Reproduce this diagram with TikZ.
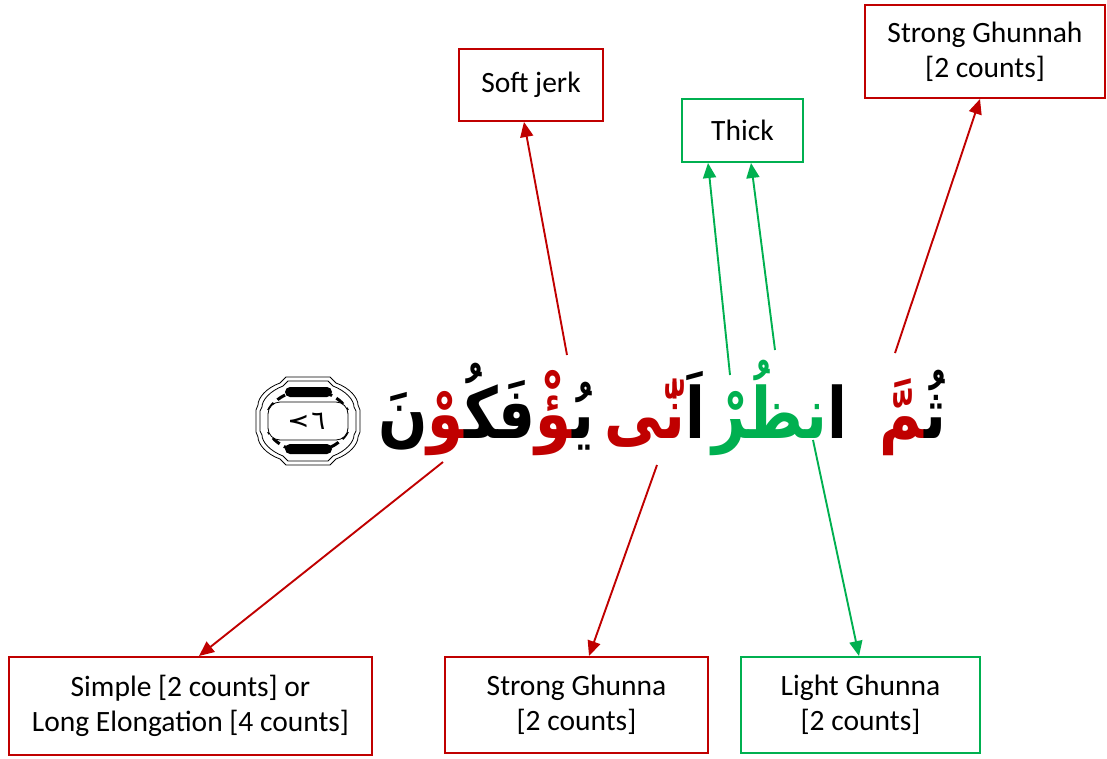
\documentclass[tikz,border=0pt]{standalone}
\usepackage{fontspec}
\setmainfont{Carlito}
\newfontfamily\arabicfont[Script=Arabic]{DejaVu Sans}
\TeXXeTstate=1
\usetikzlibrary{arrows.meta}
\definecolor{myred}{HTML}{C00000}
\definecolor{mygreen}{HTML}{00B050}
\newcommand\zj{^^^^200d}
\newcommand\tallar[1]{\scalebox{1}[1.22]{#1}}
\begin{document}
\begin{tikzpicture}[x=1pt,y=-1pt,
  box/.style={draw, line width=2pt, fill=white, inner sep=0pt, align=center,
    font=\fontsize{29.5}{35}\selectfont},
  redbox/.style={box, draw=myred},
  greenbox/.style={box, draw=mygreen},
  arr/.style={line width=1.9pt, -{Triangle[length=15pt,width=13pt]}},
  ar/.style={font=\arabicfont\bfseries\fontsize{58}{64}\selectfont, inner sep=0pt, anchor=base},
  orn/.style={line width=0.8pt},
  thickdash/.style={line width=3pt, dash pattern=on 9pt off 5pt}]
\useasboundingbox (0,0) rectangle (1107,758);

% boxes
\node[redbox, minimum width=144pt, minimum height=72pt] (sj) at (531,85) {\raisebox{4pt}{Soft jerk}};
\node[greenbox, minimum width=121pt, minimum height=63pt] (th) at (742.5,130.5) {Thick};
\node[redbox, minimum width=240pt, minimum height=93pt] (sg) at (985,51.5) {Strong Ghunnah\\{[2 counts]}};
\node[redbox, minimum width=363pt, minimum height=98pt] (sl) at (190.5,706) {Simple [2 counts] or\\Long Elongation [4 counts]};
\node[redbox, minimum width=263pt, minimum height=96pt] (sgn) at (576.5,705) {Strong Ghunna\\{[2 counts]}};
\node[greenbox, minimum width=239pt, minimum height=96pt] (lg) at (860.5,705) {Light Ghunna\\{[2 counts]}};

% Arabic words (colour segments written in visual left-to-right order)
\node[ar] (w1) at (913,438) {\tallar{\textcolor{myred}{\zj مَّ}ثُ\zj}};
\node[ar] (w2) at (780,438) {\tallar{\textcolor{mygreen}{نظُرْ}ا}};
\node[ar] (w3) at (655,438) {\tallar{\textcolor{myred}{نّٰى}اَ}};
\node[ar] (w4) at (486,438) {\tallar{نَ\textcolor{myred}{\zj وْ}فَكُ\zj\textcolor{myred}{\zj ؤْ}يُ\zj}};

% verse ornament
\draw[orn] (286,377) -- (330,377) -- (336,383) .. controls (350,388) and (358,398) .. (358,405)
  -- (360,410) -- (360,432) -- (358,437) .. controls (358,444) and (350,454) .. (336,459)
  -- (330,465) -- (286,465) -- (280,459) .. controls (266,454) and (258,444) .. (258,437)
  -- (256,432) -- (256,410) -- (258,405) .. controls (258,398) and (266,388) .. (280,383) -- cycle;
\draw[orn] (288,381) -- (328,381) -- (333,386) .. controls (346,391) and (354,400) .. (354,407)
  -- (356,411) -- (356,431) -- (354,435) .. controls (354,442) and (346,451) .. (333,456)
  -- (328,461) -- (288,461) -- (283,456) .. controls (270,451) and (262,442) .. (262,435)
  -- (260,431) -- (260,411) -- (262,407) .. controls (262,400) and (270,391) .. (283,386) -- cycle;
\fill[rounded corners=5pt] (285,387) rectangle (332,397);
\fill[rounded corners=5pt] (285,444) rectangle (332,454);
\foreach \a/\b in {20/68,112/160,200/248,292/340}
  \draw[thickdash] ([shift={(\a:42 and 31)}]308,421) arc[start angle=\a, end angle=\b, x radius=42, y radius=31];
\draw[orn, rounded corners=12pt, fill=white] (268,402) rectangle (348,440);
\node[inner sep=0pt, font=\arabicfont\fontsize{26}{28}\selectfont] (num) at (308,421)
  {\rotatebox[origin=c]{-90}{٧}\,٦};

% connectors
\coordinate (t1) at (567,355);
\coordinate (t2) at (730,375);
\coordinate (t3) at (775,350);
\coordinate (t4) at (895,353);
\coordinate (t5) at (443,462);
\coordinate (t6) at (657,465);
\coordinate (t7) at (813,440);
\draw[arr, myred] (t1) -- ([xshift=-7pt]sj.south);
\draw[arr, mygreen] (t2) -- ([xshift=-34.5pt]th.south);
\draw[arr, mygreen] (t3) -- ([xshift=8.5pt]th.south);
\draw[arr, myred] (t4) -- ([xshift=-5pt]sg.south);
\draw[arr, myred] (t5) -- ([xshift=8.5pt]sl.north);
\draw[arr, myred] (t6) -- ([xshift=12.5pt]sgn.north);
\draw[arr, mygreen] (t7) -- ([xshift=-1.5pt]lg.north);
\end{tikzpicture}
\end{document}
